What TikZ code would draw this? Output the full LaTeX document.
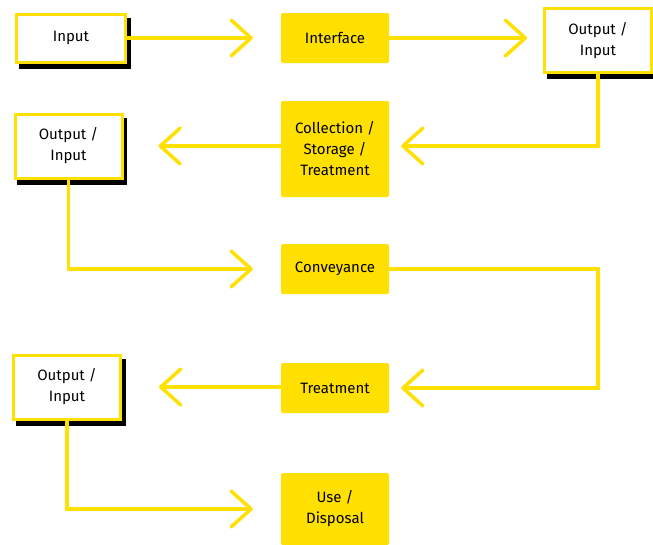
\documentclass[tikz,border=0pt]{standalone}
\usepackage{fontspec}
\setmainfont{Fira Sans}
\usepackage{tikz}
\usetikzlibrary{arrows.meta,positioning,shadows}

\definecolor{ylw}{RGB}{255,224,0}

\begin{document}
\begin{tikzpicture}[x=1pt,y=-1pt,font=\fontsize{15}{21}\selectfont,
  stage/.style={fill=ylw,rounded corners=1.5pt,align=center,minimum width=108pt,minimum height=50pt},
  iobox/.style={draw=ylw,line width=3pt,fill=white,align=center,minimum width=107pt,minimum height=64pt,
    general shadow={shadow xshift=3.5pt,shadow yshift=-5pt,fill=black,draw=black,line width=3pt}},
  arr/.style={-{Straight Barb[length=20pt,width=36pt,round]},draw=ylw,line width=3.5pt,line cap=round}]
\useasboundingbox (0,0) rectangle (653,544);
\node[iobox,minimum width=109pt,minimum height=48pt] (in) at (71,38) {Input};
\node[stage] (iface) at (335,38) {Interface};
\node[iobox] (oi1) at (598,40.5) {Output /\\Input};
\node[stage,minimum height=96pt] (coll) at (335,149) {Collection /\\Storage /\\Treatment};
\node[iobox] (oi2) at (68.5,146) {Output /\\Input};
\node[stage] (conv) at (335,269) {Conveyance};
\node[stage] (treat) at (335,388) {Treatment};
\node[iobox] (oi3) at (67,387) {Output /\\Input};
\node[stage,minimum height=72pt] (use) at (335,509) {Use /\\Disposal};
\draw[arr,shorten >=28pt] (in.east) -- (iface.west);
\draw[arr,shorten >=16pt] (iface.east) -- (iface.east -| oi1.west);
\draw[arr,shorten >=12pt] (oi1.south) |- (oi2 -| coll.east);
\draw[arr,shorten >=35pt] (coll.west |- oi2) -- (oi2.east);
\draw[arr,shorten >=28pt] (oi2.south) |- (conv.west);
\draw[arr,shorten >=12pt] (conv.east) -| (oi1.south |- treat.east) -- (treat.east);
\draw[arr,shorten >=37pt] (treat.west |- oi3) -- (oi3.east);
\draw[arr,shorten >=28pt] (oi3.south) |- (use.west);
\end{tikzpicture}
\end{document}
